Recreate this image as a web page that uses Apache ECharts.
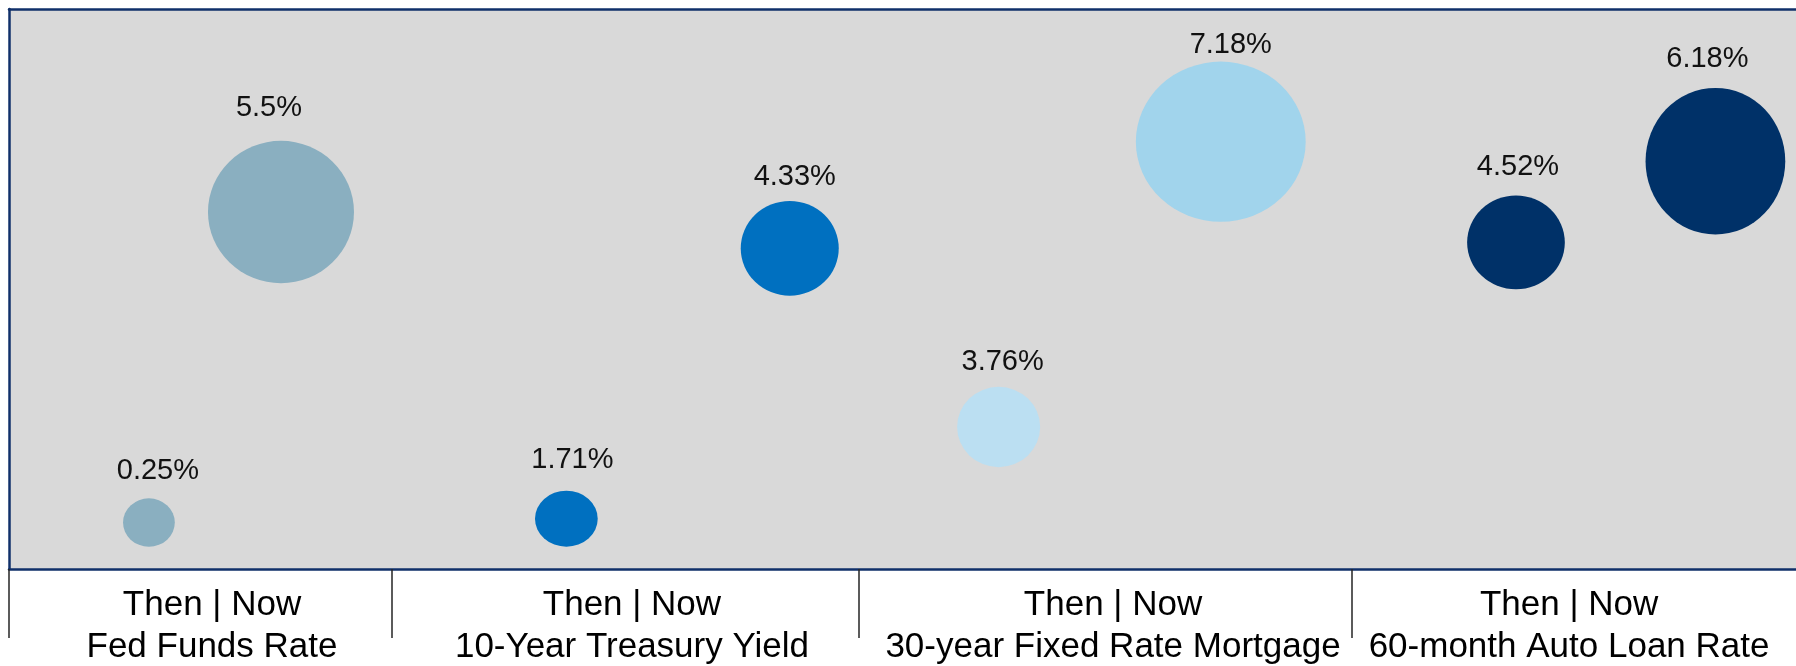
<!DOCTYPE html>
<html>
<head>
<meta charset="utf-8">
<script src="https://cdn.jsdelivr.net/npm/echarts@6/dist/echarts.min.js"></script>
<style>
  html, body { margin: 0; padding: 0; background: #ffffff; }
  #chart { width: 1796px; height: 666px; }
</style>
</head>
<body>
<div id="chart"></div>
<script>
// Rates, then vs now
const categories = ['Fed Funds Rate', '10-Year Treasury Yield', '30-year Fixed Rate Mortgage', '60-month Auto Loan Rate'];
const thenRates = [0.25, 1.71, 3.76, 4.52];
const nowRates = [5.5, 4.33, 7.18, 6.18];

// Bubble placement on the 0–100 panel axes
const thenX = [7.83, 31.19, 55.38, 84.33];
const nowX = [15.22, 43.69, 67.81, 95.49];
const thenY = [8.3, 8.98, 25.36, 58.32];
const nowY = [63.75, 57.27, 76.3, 72.82];

// Bubble weights (third data dimension)
const thenBubble = [8.64, 10.0, 14.34, 16.77];
const nowBubble = [25.41, 16.91, 28.61, 26.18];

// Group boundaries and label centres along the bottom band
const groupBounds = [0, 21.43, 47.57, 75.15];
const groupCentres = [11.36, 34.86, 61.78, 87.3];

// Styling
const thenColors = ['#8aafc0', '#0070c0', '#bbdff2', '#003168'];
const nowColors = ['#8aafc0', '#0070c0', '#a1d4ec', '#003168'];
const thenAspect = [1.07, 1.12, 1.034, 1.04];
const nowAspect = [1.026, 1.035, 1.06, 0.953];
const thenLabelShift = [[9, 0], [6, -3], [4, 3], [2, -1]];
const nowLabelShift = [[-12, -5], [5, 4], [10, 11], [-8, -1]];

const FONT = '"Liberation Sans", Arial, Helvetica, sans-serif';
const GRID = { left: 9, top: 9, right: 0, bottom: 97 };
const NAVY = '#10306a';

const chart = echarts.init(document.getElementById('chart'), null, { renderer: 'canvas' });
const plotH = chart.getHeight() - GRID.top - GRID.bottom;
const unit = plotH / 100;

function point(x, y, rate, bubble, color, aspect, shift) {
  return {
    value: [x, y, rate, bubble],
    symbolSize: [bubble * unit * aspect, bubble * unit],
    itemStyle: { color: color },
    label: { offset: shift }
  };
}

const series = categories.map((name, i) => ({
  name: name,
  type: 'scatter',
  data: [
    point(thenX[i], thenY[i], thenRates[i], thenBubble[i], thenColors[i], thenAspect[i], thenLabelShift[i]),
    point(nowX[i], nowY[i], nowRates[i], nowBubble[i], nowColors[i], nowAspect[i], nowLabelShift[i])
  ],
  symbol: 'circle',
  itemStyle: { opacity: 1 },
  label: {
    show: true,
    position: 'top',
    distance: 13,
    formatter: p => p.value[2] + '%',
    fontFamily: FONT,
    fontSize: 29,
    color: '#111111'
  },
  emphasis: { disabled: true },
  silent: true
}));

chart.setOption({
  animation: false,
  backgroundColor: '#ffffff',
  grid: Object.assign({
    show: true,
    backgroundColor: '#d9d9d9',
    borderWidth: 0,
    containLabel: false,
    outerBoundsMode: 'none'
  }, GRID),
  xAxis: [
    {
      type: 'value',
      min: 0,
      max: 100,
      position: 'bottom',
      axisLine: { show: true, onZero: false, lineStyle: { color: NAVY, width: 2.5 } },
      axisTick: {
        show: true,
        customValues: groupBounds,
        length: 69,
        lineStyle: { color: '#262626', width: 1.5 }
      },
      axisLabel: {
        show: true,
        customValues: groupCentres,
        margin: 15,
        fontFamily: FONT,
        fontSize: 35,
        lineHeight: 42,
        color: '#000000',
        align: 'center',
        formatter: value => {
          const k = groupCentres.indexOf(value);
          return 'Then | Now\n' + (k >= 0 ? categories[k] : '');
        }
      },
      splitLine: { show: false }
    },
    {
      type: 'value',
      min: 0,
      max: 100,
      position: 'top',
      axisLine: { show: true, onZero: false, lineStyle: { color: NAVY, width: 2.5 } },
      axisTick: { show: false },
      axisLabel: { show: false },
      splitLine: { show: false }
    }
  ],
  yAxis: {
    type: 'value',
    min: 0,
    max: 100,
    axisLine: { show: true, onZero: false, lineStyle: { color: NAVY, width: 2.5 } },
    axisTick: { show: false },
    axisLabel: { show: false },
    splitLine: { show: false }
  },
  series: series
});
</script>
</body>
</html>
